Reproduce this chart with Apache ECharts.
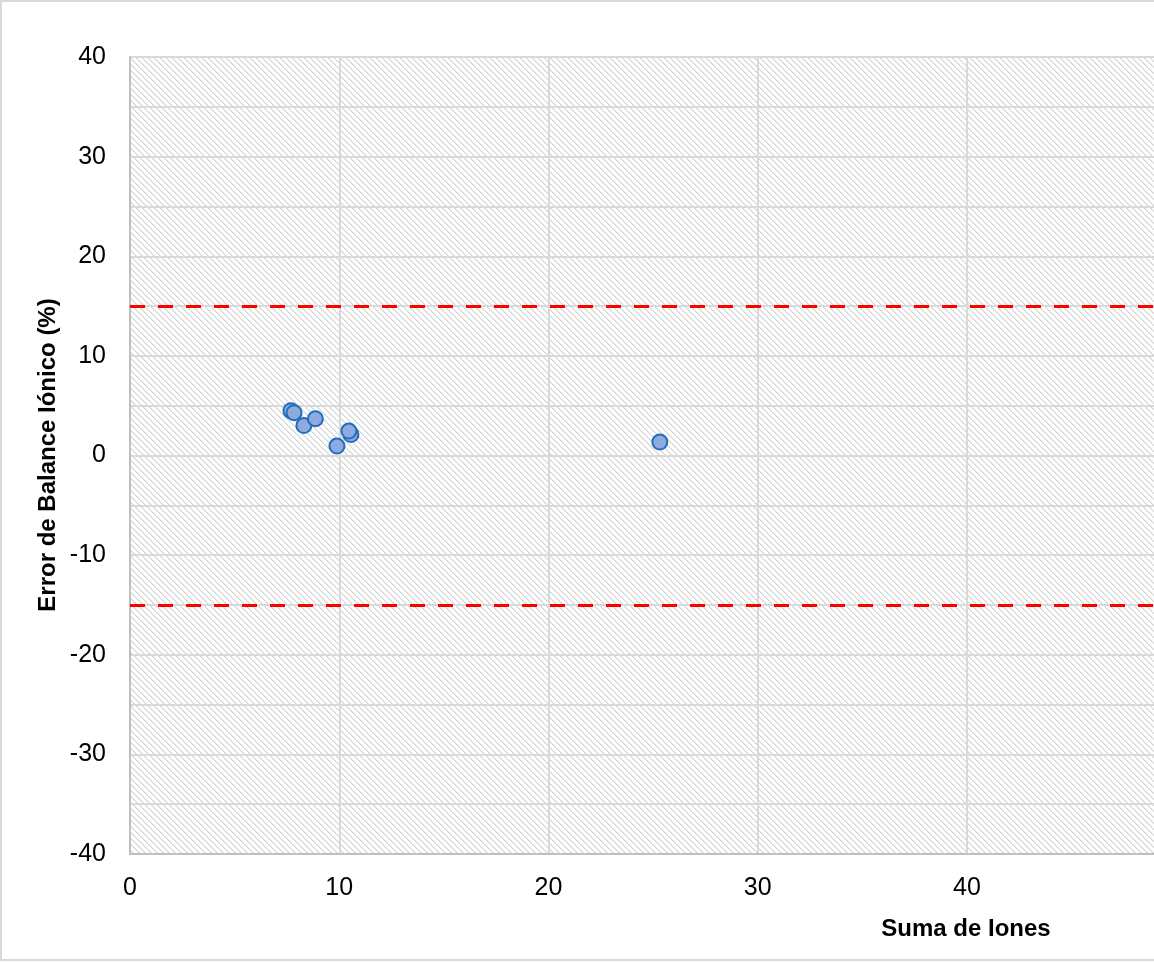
<!DOCTYPE html>
<html>
<head>
<meta charset="utf-8">
<script src="https://cdn.jsdelivr.net/npm/echarts@6/dist/echarts.min.js"></script>
<style>
html,body{margin:0;padding:0;background:#fff;}
#chart{width:1154px;height:962px;}
</style>
</head>
<body>
<div id="chart"></div>
<script>
// ---- data ----
var sumaIones = [7.69, 7.84, 8.31, 8.86, 9.89, 10.56, 10.46, 25.32];
var errorBalance = [4.5, 4.3, 3.0, 3.7, 0.95, 2.1, 2.45, 1.35];
var limites = [15, -15];
var xTitle = 'Suma de Iones';
var yTitle = 'Error de Balance Iónico (%)';

// hatch pattern
var tile = document.createElement('canvas');
tile.width = 6; tile.height = 6;
var tc = tile.getContext('2d');
tc.fillStyle = '#ffffff';
tc.fillRect(0,0,6,6);
for (var i = 0; i < 6; i++) {
  tc.fillStyle = '#d4d4d4';
  tc.fillRect(i, i, 1, 1);
  tc.fillStyle = '#e9e9e9';
  tc.fillRect((i + 1) % 6, i, 1, 1);
}

var tickFont = '"Liberation Sans Narrow", "Liberation Sans", Arial, sans-serif';
var titleFont = '"Liberation Sans", Arial, sans-serif';

var chart = echarts.init(document.getElementById('chart'), null, {renderer: 'canvas'});
var pts = sumaIones.map(function (x, k) { return [x, errorBalance[k]]; });

chart.setOption({
  animation: false,
  backgroundColor: '#ffffff',
  grid: {
    left: 130, top: 57, bottom: 108, right: -22.25,
    outerBoundsMode: 'none',
    containLabel: false,
    show: true, backgroundColor: {image: tile, repeat: 'repeat'}, borderWidth: 0
  },
  xAxis: {
    type: 'value', min: 0, max: 50, interval: 10,
    axisLine: {show: true, onZero: false, lineStyle: {color: '#bfbfbf', width: 2}},
    axisTick: {show: false},
    axisLabel: {fontFamily: tickFont, fontSize: 25, color: '#000', margin: 22},
    splitLine: {show: true, lineStyle: {color: '#d9d9d9', width: 2}}
  },
  yAxis: {
    type: 'value', min: -40, max: 40, interval: 10,
    axisLine: {show: true, onZero: false, lineStyle: {color: '#bfbfbf', width: 2}},
    axisTick: {show: false},
    axisLabel: {fontFamily: tickFont, fontSize: 25, color: '#000', margin: 24, padding: [6, 0, 0, 0]},
    splitLine: {show: true, lineStyle: {color: '#d9d9d9', width: 2}},
    minorTick: {show: false, splitNumber: 2},
    minorSplitLine: {show: true, lineStyle: {color: '#d9d9d9', width: 2}}
  },
  series: [{
    type: 'scatter',
    data: pts,
    symbol: 'circle',
    symbolSize: 15,
    itemStyle: {color: '#8faadc', borderColor: '#1f6fbe', borderWidth: 2, opacity: 1},
    markLine: {
      silent: true,
      symbol: 'none',
      label: {show: false},
      lineStyle: {color: '#ff0000', width: 3, type: [15, 13]},
      data: limites.map(function (v) { return {yAxis: v}; })
    },
    z: 5
  }],
  graphic: [
    {
      type: 'rect', silent: true,
      shape: {x: 1, y: 1, width: 1200, height: 959},
      style: {fill: null, stroke: '#d9d9d9', lineWidth: 2}
    },
    {
      type: 'text', x: 966, y: 929,
      style: {text: xTitle, font: 'bold 24px ' + titleFont, fill: '#000', align: 'center', verticalAlign: 'middle'}
    },
    {
      type: 'text', x: 48, y: 455, rotation: Math.PI / 2,
      style: {text: yTitle, font: 'bold 24px ' + titleFont, fill: '#000', align: 'center', verticalAlign: 'middle'}
    }
  ]
});
</script>
</body>
</html>
